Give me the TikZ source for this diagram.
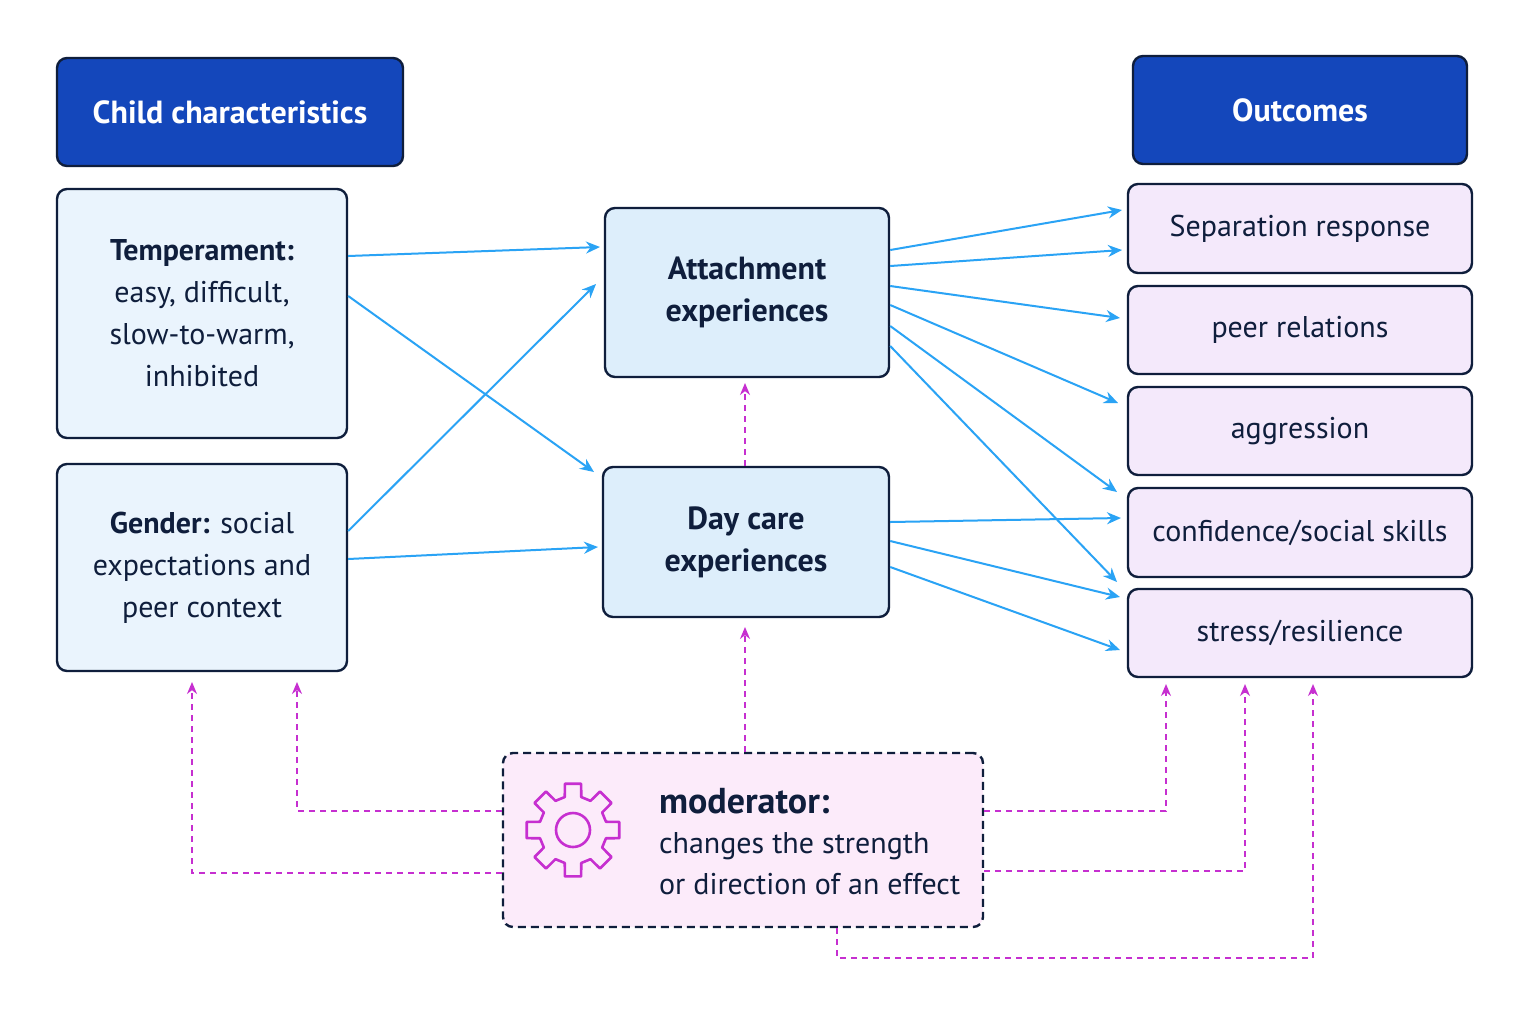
\documentclass[tikz,border=0pt]{standalone}
\usepackage{fontspec}
\setmainfont{PT Sans}
\usetikzlibrary{calc,arrows.meta}
\definecolor{hdr}{HTML}{1447BB}
\definecolor{navy}{HTML}{0F1E3C}
\definecolor{lb}{HTML}{EAF4FD}
\definecolor{mb}{HTML}{DDEEFB}
\definecolor{lp}{HTML}{F4E9FB}
\definecolor{mp}{HTML}{FCEBFA}
\definecolor{arr}{HTML}{2AA3F5}
\definecolor{mag}{HTML}{C62FD0}
\begin{document}
\begin{tikzpicture}[x=0.5pt,y=-0.5pt,
  box/.style={draw=navy,line width=1.2pt,rounded corners=5pt,align=center,text=navy,
    font=\fontsize{15}{21}\selectfont},
  hd/.style={box,fill=hdr,text=white,font=\fontsize{16}{20}\selectfont\bfseries},
  ar/.style={draw=arr,line width=1pt,-{Stealth[length=7pt,width=6pt]}},
  md/.style={draw=mag,line width=0.8pt,dashed,dash pattern=on 3pt off 2.5pt,-{Stealth[length=6pt,width=5pt]}}]
\useasboundingbox[fill=white] (0,0) rectangle (1536,1024);
\node[hd,minimum width=173pt,minimum height=54pt] (cc) at (230,112) {Child characteristics};
\node[hd,minimum width=167pt,minimum height=54pt] (oc) at (1300,110) {Outcomes};
\node[box,fill=lb,minimum width=145pt,minimum height=124.5pt] (temp) at (202,313.5)
  {\textbf{Temperament:}\\easy, difficult,\\slow-to-warm,\\inhibited};
\node[box,fill=lb,minimum width=145pt,minimum height=103.5pt] (gen) at (202,567.5)
  {\textbf{Gender:} social\\expectations and\\peer context};
\node[box,fill=mb,minimum width=142pt,minimum height=84.5pt,font=\fontsize{16}{21}\selectfont\bfseries] (att) at (747,292.5)
  {Attachment\\experiences};
\node[box,fill=mb,minimum width=143pt,minimum height=75pt,font=\fontsize{16}{21}\selectfont\bfseries] (day) at (746,542)
  {Day care\\experiences};
\foreach \n/\y/\h/\t in {sep/228.5/44.5/{Separation response}, peer/330/44/{peer relations},
  agg/431/44/{aggression}, conf/532.5/44.5/{confidence/social skills}, str/633/44/{stress/resilience}}
  \node[box,fill=lp,minimum width=172pt,minimum height=\h pt] (\n) at (1300,\y) {\t};
\node[box,fill=mp,dashed,dash pattern=on 4pt off 2.5pt,minimum width=240pt,minimum height=87pt] (mod) at (743,840) {};
\node[anchor=west,text=navy,font=\fontsize{18}{20}\selectfont\bfseries] (mt) at (652,801) {moderator:};
\node[anchor=west,text=navy,align=left,font=\fontsize{15}{20.5}\selectfont] (mx) at (652,864) {changes the strength\\or direction of an effect};
\coordinate (g) at (573,830);
\draw[mag,line width=1.3pt,line join=round] ($(g)+(-14:34)$)
  \foreach \a in {0,45,...,315}{ -- ($(g)+(\a-14:34)$) -- ($(g)+(\a-10:47)$) -- ($(g)+(\a+10:47)$) -- ($(g)+(\a+14:34)$)} -- cycle;
\draw[mag,line width=1.3pt] (g) circle[radius=17];
% blue arrows
\draw[ar] (temp.east|-0,256) -- (600,247);
\draw[ar] (temp.east|-0,296) -- (594,472);
\draw[ar] (gen.east|-0,531) -- (596,284);
\draw[ar] (gen.east|-0,559) -- (598,547);
\draw[ar] (att.east|-0,250) -- (1122,210);
\draw[ar] (att.east|-0,266) -- (1122,250);
\draw[ar] (att.east|-0,286) -- (1120,318);
\draw[ar] (att.east|-0,305) -- (1118,403);
\draw[ar] (att.east|-0,326) -- (1117,492);
\draw[ar] (att.east|-0,346) -- (1117,582);
\draw[ar] (day.east|-0,522) -- (1121,518);
\draw[ar] (day.east|-0,541) -- (1120,597);
\draw[ar] (day.east|-0,567) -- (1120,650);
% magenta
\draw[md] (day.north-|745,0) -- (745,383);
\draw[md] (mod.north-|745,0) -- (745,627);
\draw[md] (mod.west|-0,811) -- (297,811) -- (297,682);
\draw[md] (mod.west|-0,873) -- (192,873) -- (192,682);
\draw[md] (mod.east|-0,811) -- (1166,811) -- (1166,684);
\draw[md] (mod.east|-0,871) -- (1245,871) -- (1245,684);
\draw[md] (mod.south-|837,0) -- (837,958) -- (1313,958) -- (1313,684);
\end{tikzpicture}
\end{document}
